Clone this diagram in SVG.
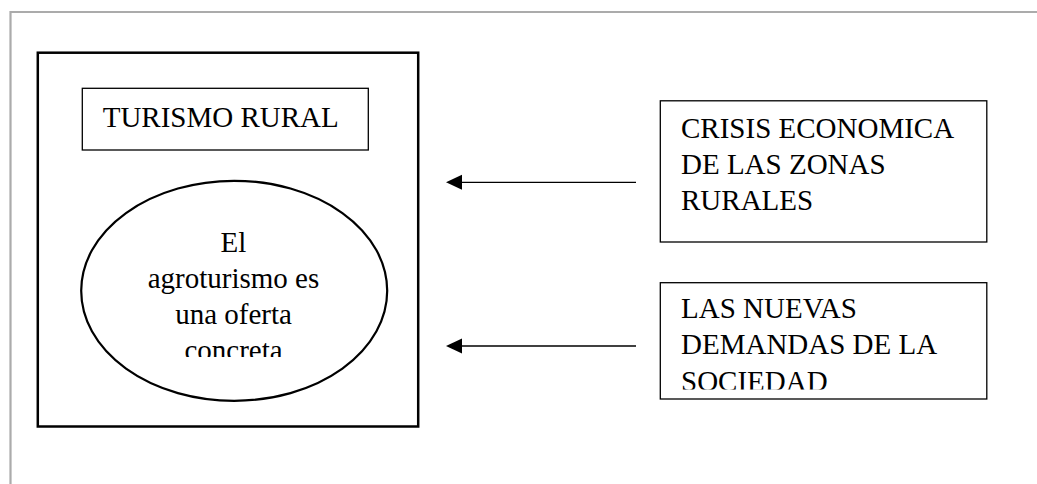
<svg xmlns="http://www.w3.org/2000/svg" width="1037" height="484" viewBox="0 0 1037 484">
  <defs>
    <style>
      .txt { font-family: "Liberation Serif", "Times New Roman", serif; font-size: 29px; fill: #000; }
      .thin { fill: #fff; stroke: #000; stroke-width: 1.3; }
      .thick { fill: #fff; stroke: #000; stroke-width: 2.5; }
      .conn { stroke: #000; stroke-width: 1.3; fill: none; }
    </style>
    <marker id="arrow" markerUnits="userSpaceOnUse" markerWidth="16" markerHeight="15" refX="0" refY="7.5" orient="auto" overflow="visible">
      <path d="M0,0 L16,7.5 L0,15 Z" fill="#000"/>
    </marker>
    <clipPath id="clipEllipse">
      <rect x="80" y="180" width="310" height="177"/>
    </clipPath>
    <clipPath id="clipSociedad">
      <rect x="660" y="283" width="327" height="106.5"/>
    </clipPath>
  </defs>

  <rect width="1037" height="484" fill="#fff"/>

  <g id="frame">
    <path d="M10.5,484 V12 H1037" fill="none" stroke="#ababab" stroke-width="2.2"/>
  </g>

  <g id="turismo-container">
    <rect class="thick" x="37.8" y="52.7" width="380.4" height="373.8"/>
  </g>

  <g id="turismo-rural">
    <rect class="thin" x="82.3" y="88.3" width="286" height="61.7"/>
    <text class="txt" x="102.7" y="126.7">TURISMO RURAL</text>
  </g>

  <g id="agroturismo">
    <ellipse cx="234.2" cy="290.8" rx="153" ry="110" fill="#fff" stroke="#000" stroke-width="2.2"/>
    <g clip-path="url(#clipEllipse)">
      <text class="txt" text-anchor="middle" x="233.5" y="251.7">El</text>
      <text class="txt" text-anchor="middle" x="233.5" y="288">agroturismo es</text>
      <text class="txt" text-anchor="middle" x="233.5" y="323.5">una oferta</text>
      <text class="txt" text-anchor="middle" x="233.5" y="359.5">concreta</text>
    </g>
  </g>

  <g id="crisis">
    <rect class="thin" x="660.3" y="100.8" width="326.5" height="141.2"/>
    <text class="txt" x="681" y="137.7">CRISIS ECONOMICA</text>
    <text class="txt" x="681" y="173.5">DE LAS ZONAS</text>
    <text class="txt" x="681" y="210">RURALES</text>
  </g>

  <g id="demandas">
    <rect class="thin" x="660.3" y="282.7" width="326.5" height="116.3"/>
    <g clip-path="url(#clipSociedad)">
      <text class="txt" x="681" y="318">LAS NUEVAS</text>
      <text class="txt" x="681" y="354">DEMANDAS DE LA</text>
      <text class="txt" x="681" y="390.5">SOCIEDAD</text>
    </g>
  </g>

  <g id="connectors">
    <line class="conn" x1="636" y1="182.3" x2="462" y2="182.3" marker-end="url(#arrow)"/>
    <line class="conn" x1="636" y1="346" x2="462" y2="346" marker-end="url(#arrow)"/>
  </g>
</svg>
